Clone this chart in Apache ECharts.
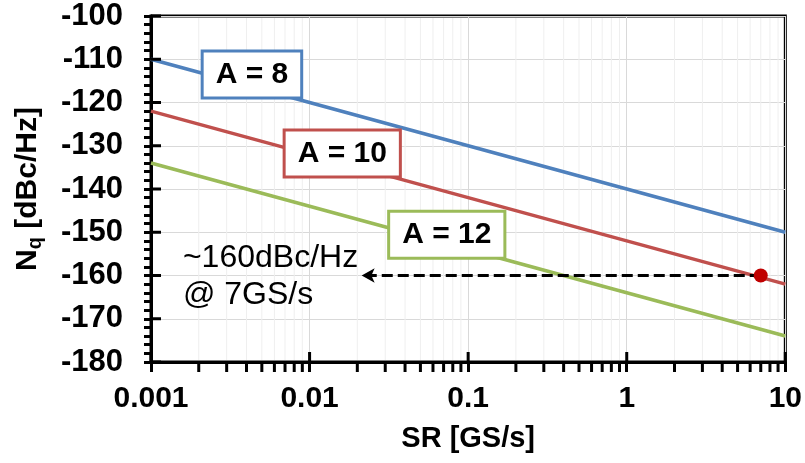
<!DOCTYPE html>
<html>
<head>
<meta charset="utf-8">
<script src="https://cdn.jsdelivr.net/npm/echarts@6/dist/echarts.min.js"></script>
<style>
  html, body { margin: 0; padding: 0; background: #fff; }
  #main { width: 805px; height: 463px; }
</style>
</head>
<body>
<div id="main"></div>
<script>
// data
var srValues = [0.001, 0.01, 0.1, 1, 10];
var nqA8 = [-110, -120, -130, -140, -150];
var nqA10 = [-122, -132, -142, -152, -162];
var nqA12 = [-134, -144, -154, -164, -174];
var xTickLabels = ['0.001', '0.01', '0.1', '1', '10'];
var yTicks = [-180, -170, -160, -150, -140, -130, -120, -110, -100];
var markedPoint = [7, -160];
var arrowEnd = [0.0213, -160];
// minor log positions 2..9 of every decade
var minorX = [];
for (var d = 0; d < 4; d++) {
  for (var k = 2; k <= 9; k++) {
    minorX.push([+(k * Math.pow(10, d - 3)).toPrecision(3)]);
  }
}
// annotation anchors [x, y]
var labelA8 = [0.00433, -113.5];
var labelA10 = [0.01607, -131.8];
var labelA12 = [0.0733, -150.6];
var noteAnchor = [0.00159, -160.3];

var font = 'Liberation Sans, Arial, sans-serif';
var xMin = 0.001, xMax = 10;
var yMin = -180, yMax = -100;

var chartDom = document.getElementById('main');
var myChart = echarts.init(chartDom, null, { renderer: 'canvas' });

function pairs(ys) {
  return srValues.map(function (x, i) { return [x, ys[i]]; });
}

function boxLabel(text, color) {
  return {
    show: true,
    position: 'inside',
    formatter: text,
    color: '#000',
    fontFamily: font,
    fontSize: 30,
    fontWeight: 'bold',
    lineHeight: 32,
    backgroundColor: '#fff',
    borderColor: color,
    borderWidth: 3,
    padding: [6, 12, 6, 12]
  };
}

var option = {
  animation: false,
  grid: {
    left: 151, right: 19, top: 16, bottom: 101,
    show: true, borderColor: '#000', borderWidth: 3
  },
  xAxis: {
    type: 'log', logBase: 10, min: xMin, max: xMax,
    name: 'SR [GS/s]', nameLocation: 'middle', nameGap: 62,
    nameTextStyle: { fontFamily: font, fontSize: 29, fontWeight: 'bold', color: '#000' },
    axisLine: { lineStyle: { color: '#000', width: 3 } },
    axisTick: { length: 10, lineStyle: { color: '#000', width: 3 } },
    axisLabel: {
      margin: 22, fontFamily: font, fontSize: 30, fontWeight: 'bold', color: '#000',
      formatter: function (v) { return xTickLabels[Math.round(Math.log10(v)) + 3]; }
    },
    splitLine: { show: true, lineStyle: { color: '#d9d9d9', width: 1 } }
  },
  yAxis: {
    type: 'value', min: yMin, max: yMax, interval: 10,
    name: '{n|N}{q|q}{n| [dBc/Hz]}', nameLocation: 'middle', nameGap: 106, nameRotate: 90,
    nameTextStyle: {
      color: '#000',
      rich: {
        n: { fontFamily: font, fontSize: 30, fontWeight: 'bold', color: '#000', verticalAlign: 'top', lineHeight: 32 },
        q: { fontFamily: font, fontSize: 20, fontWeight: 'bold', color: '#000', verticalAlign: 'top', lineHeight: 22, padding: [12, 0, 0, 0] }
      }
    },
    axisLine: { show: true, lineStyle: { color: '#000', width: 3 } },
    axisTick: { length: 7, lineStyle: { color: '#000', width: 3 } },
    minorTick: { show: true, splitNumber: 5, length: 7, lineStyle: { color: '#000', width: 3 } },
    axisLabel: { margin: 28, fontFamily: font, fontSize: 31, fontWeight: 'bold', color: '#000' },
    splitLine: { show: true, lineStyle: { color: '#d9d9d9', width: 1 } }
  },
  series: [
    {
      // minor vertical gridlines + minor x ticks
      type: 'custom', clip: false, silent: true, z: 1,
      data: minorX,
      encode: { x: 0 },
      renderItem: function (params, api) {
        var x = api.value(0);
        var b = api.coord([x, yMin]);
        var t = api.coord([x, yMax]);
        return {
          type: 'group',
          children: [
            { type: 'line', shape: { x1: b[0], y1: b[1] - 2, x2: t[0], y2: t[1] + 2 }, style: { stroke: '#efefef', lineWidth: 1 } },
            { type: 'line', shape: { x1: b[0], y1: b[1], x2: b[0], y2: b[1] + 10 }, style: { stroke: '#000', lineWidth: 3 } }
          ]
        };
      }
    },
    {
      // inner half of the decade ticks on the x axis
      type: 'custom', clip: false, silent: true, z: 4,
      data: srValues.map(function (x) { return [x]; }),
      encode: { x: 0 },
      renderItem: function (params, api) {
        var b = api.coord([api.value(0), yMin]);
        return { type: 'line', shape: { x1: b[0], y1: b[1], x2: b[0], y2: b[1] - 10 }, style: { stroke: '#000', lineWidth: 3 } };
      }
    },
    {
      // inner half of the major ticks on the y axis
      type: 'custom', clip: false, silent: true, z: 4,
      data: yTicks.map(function (y) { return [xMin, y]; }),
      encode: { x: 0, y: 1 },
      renderItem: function (params, api) {
        var p = api.coord([xMin, api.value(1)]);
        return { type: 'line', shape: { x1: p[0], y1: p[1], x2: p[0] + 10, y2: p[1] }, style: { stroke: '#000', lineWidth: 3 } };
      }
    },
    {
      name: 'A = 8', type: 'line', data: pairs(nqA8), symbol: 'none',
      lineStyle: { color: '#4F81BD', width: 3.5 }, z: 3
    },
    {
      name: 'A = 10', type: 'line', data: pairs(nqA10), symbol: 'none',
      lineStyle: { color: '#C0504D', width: 3.5 }, z: 3
    },
    {
      name: 'A = 12', type: 'line', data: pairs(nqA12), symbol: 'none',
      lineStyle: { color: '#9BBB59', width: 3.5 }, z: 3
    },
    {
      type: 'scatter', data: [markedPoint], symbolSize: 14,
      itemStyle: { color: '#C00000', opacity: 1 }, z: 6,
      markLine: {
        silent: true,
        symbol: ['none', 'arrow'],
        symbolSize: [11, 13],
        label: { show: false },
        lineStyle: { color: '#000', width: 3, type: [11, 5], opacity: 1 },
        data: [[{ coord: markedPoint }, { coord: arrowEnd }]]
      }
    },
    {
      type: 'scatter', symbolSize: 0, silent: true, z: 8,
      itemStyle: { opacity: 1 },
      data: [
        { value: labelA8, label: boxLabel('A = 8', '#4F81BD') },
        { value: labelA10, label: boxLabel('A = 10', '#C0504D') },
        { value: labelA12, label: boxLabel('A = 12', '#9BBB59') },
        {
          value: noteAnchor,
          label: {
            show: true, position: 'right', distance: 0, align: 'left', verticalAlign: 'middle',
            formatter: '~160dBc/Hz\n@ 7GS/s',
            fontFamily: font, fontSize: 32, lineHeight: 37, color: '#000'
          }
        }
      ]
    }
  ]
};

option && myChart.setOption(option);
</script>
</body>
</html>
